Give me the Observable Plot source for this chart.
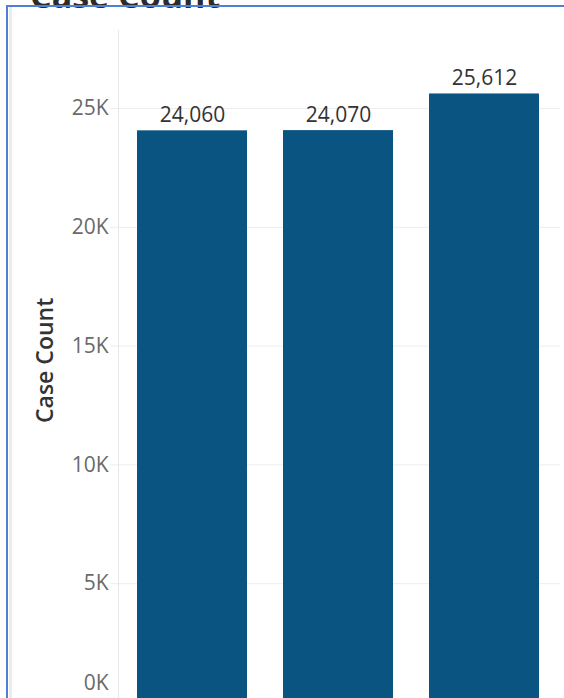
<!DOCTYPE html>
<html>
<head>
<meta charset="utf-8">
<script src="https://cdn.jsdelivr.net/npm/d3@7"></script>
<script src="https://cdn.jsdelivr.net/npm/@observablehq/plot@0.6"></script>
<style>
  html, body { margin: 0; padding: 0; background: #fff; overflow: hidden; width: 564px; height: 698px; }
  body { position: relative; font-family: "Open Sans", sans-serif; }
  #border-top { position: absolute; left: 7px; top: 5px; width: 557px; height: 2px; background: #4f7fd6; }
  #border-left { position: absolute; left: 6px; top: 5px; width: 2px; height: 693px; background: #4f7fd6; }
  #band { position: absolute; left: 9px; top: 7px; width: 3px; height: 691px; background: #ececec; }
  #title { position: absolute; left: 30px; top: -22px; font: 700 34px/34px "Open Sans", sans-serif; color: #2b2b2b; white-space: nowrap; }
  #chart { position: absolute; left: 0; top: 0; }
</style>
</head>
<body>
<div id="title">Case Count</div>
<div id="chart"></div>
<div id="border-top"></div>
<div id="border-left"></div>
<div id="band"></div>
<script>
const categories = ["Category 1", "Category 2", "Category 3"];
const caseCounts = [24060, 24070, 25612];
const yTicks = [5000, 10000, 15000, 20000, 25000];
const yZeroTick = [0];

const data = categories.map((c, i) => ({category: c, count: caseCounts[i]}));
const kFmt = d => (d / 1000) + "K";
const numFmt = d3.format(",");

const chart = Plot.plot({
  width: 564,
  height: 720,
  marginTop: 30,
  marginBottom: 18,
  marginLeft: 118,
  marginRight: 7,
  style: {fontFamily: "Open Sans, sans-serif", background: "transparent"},
  x: {domain: categories, paddingInner: 0.25, paddingOuter: 0.125, axis: null},
  y: {domain: [0, 28283], axis: null},
  marks: [
    Plot.ruleY(yTicks, {stroke: "#ededed", strokeWidth: 1, insetLeft: -8, insetRight: -3}),
    Plot.frame({anchor: "left", stroke: "#e6e6e6"}),
    Plot.barY(data, {x: "category", y: "count", fill: "#0a5482"}),
    Plot.text(data, {x: "category", y: "count", text: d => numFmt(d.count), lineAnchor: "bottom", dy: -9, fontSize: 21, fill: "#333"}),
    Plot.axisY({ticks: yTicks, tickFormat: kFmt, tickSize: 0, tickPadding: 10, fontSize: 21, color: "#6a6a6a", label: null}),
    Plot.text(yZeroTick, {y: d => d, text: kFmt, frameAnchor: "left", dx: -10, dy: -19, textAnchor: "end", fontSize: 21, fill: "#6a6a6a"}),
    Plot.text(["Case Count"], {text: d => d, frameAnchor: "left", dx: -73, y: [14400], rotate: -90, textAnchor: "middle", fontSize: 23, fontWeight: 600, fill: "#333"})
  ]
});
document.getElementById("chart").appendChild(chart);
</script>
</body>
</html>
